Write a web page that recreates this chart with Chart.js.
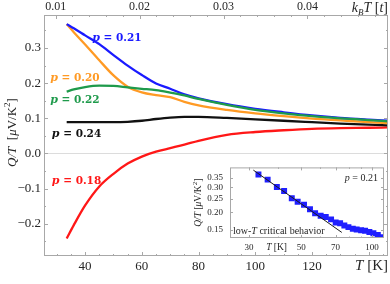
<!DOCTYPE html>
<html lang="en">
<head>
<meta charset="UTF-8" />
<title>Q/T vs T</title>
<script src="https://cdn.jsdelivr.net/npm/chart.js"></script>
<style>
  html, body { margin: 0; padding: 0; background: #fff; }
  #wrap { position: relative; width: 390px; height: 284px; }
  #main { position: absolute; left: 0; top: 0; }
  #inset { position: absolute; left: 185px; top: 155px; }
</style>
</head>
<body>
<div id="wrap">
  <canvas id="main" width="390" height="284"></canvas>
  <canvas id="inset" width="205" height="104"></canvas>
</div>
<script>
// main panel: Q/T vs T for several dopings p
const temps = [33.5, 36, 40, 45, 50, 55, 60, 65, 70, 75, 80, 90, 100, 110, 120, 130, 140, 147];
const p021 = [0.368, 0.356, 0.336, 0.311, 0.280, 0.250, 0.223, 0.199, 0.184, 0.168, 0.157, 0.140, 0.127, 0.117, 0.108, 0.101, 0.096, 0.093];
const p020 = [0.368, 0.345, 0.310, 0.265, 0.222, 0.190, 0.174, 0.166, 0.160, 0.147, 0.137, 0.124, 0.114, 0.106, 0.099, 0.094, 0.089, 0.086];
const p022 = [0.176, 0.182, 0.189, 0.193, 0.192, 0.188, 0.184, 0.180, 0.173, 0.165, 0.155, 0.138, 0.124, 0.114, 0.106, 0.100, 0.095, 0.091];
const p024 = [0.089, 0.089, 0.089, 0.089, 0.089, 0.090, 0.093, 0.098, 0.102, 0.104, 0.104, 0.101, 0.097, 0.093, 0.089, 0.085, 0.082, 0.080];
const p018 = [-0.242, -0.204, -0.148, -0.094, -0.058, -0.029, -0.009, 0.005, 0.015, 0.025, 0.036, 0.053, 0.061, 0.066, 0.070, 0.072, 0.073, 0.074];

const tTicks = [40, 60, 80, 100, 120];
const kbtTicks = [0.01, 0.02, 0.03, 0.04];
const yTicks = [-0.2, -0.1, 0.0, 0.1, 0.2, 0.3];
const kelvinPerT = 2960;   // T [K] per k_B T [t]

// inset: p = 0.21 data on log-log axes
const insetT = [32.9, 36.0, 39.4, 42.3, 45.6, 48.3, 51.4, 54.5, 57.3, 60.5, 63.6, 67.0, 70.1, 73.2, 76.3, 79.4, 82.9, 86.1, 89.9, 93.5, 97.5, 101.4, 105.9, 110.1];
const insetQ = [0.370, 0.340, 0.302, 0.283, 0.251, 0.237, 0.226, 0.210, 0.197, 0.189, 0.185, 0.178, 0.169, 0.167, 0.161, 0.157, 0.153, 0.151, 0.149, 0.148, 0.145, 0.142, 0.138, 0.133];
const fitT = [31.3, 74.4];
const fitQ = [0.397, 0.144];
const insetXTicks = [30, 50, 70, 100];
const insetYTicks = [0.15, 0.20, 0.25, 0.30, 0.35];

const serif = "'Liberation Serif', 'Times New Roman', serif";
const boldSerif = "'DejaVu Serif', serif";
const frameColor = '#a8a8a8';
const textColor = '#262626';

const series = [
  { name: '0.22', data: p022, color: '#1e9a4b', order: 0, at: [27.66, 0.1556] },
  { name: '0.21', data: p021, color: '#1a1aff', order: 1, at: [42.47, 0.330] },
  { name: '0.20', data: p020, color: '#ff9a24', order: 2, at: [27.66, 0.2187] },
  { name: '0.24', data: p024, color: '#111111', order: 3, at: [28.26, 0.0574] },
  { name: '0.18', data: p018, color: '#ff1717', order: 4, at: [28.26, -0.0755] }
];

function drawRich(ctx, parts, x, y, align) {
  let w = 0;
  for (const p of parts) { ctx.font = p.f; w += ctx.measureText(p.t).width; }
  let cx = align === 'center' ? x - w / 2 : align === 'right' ? x - w : x;
  ctx.textBaseline = 'alphabetic';
  ctx.textAlign = 'left';
  for (const p of parts) {
    ctx.font = p.f;
    ctx.fillText(p.t, cx, y + (p.dy || 0));
    cx += ctx.measureText(p.t).width;
  }
}

function frameTicks(ctx, a, scale, vals, len, sides) {
  ctx.beginPath();
  for (const v of vals) {
    const p = scale.getPixelForValue(v);
    if (scale.isHorizontal()) {
      if (p < a.left || p > a.right) continue;
      const x = Math.round(p) + 0.5;
      if (sides.includes('bottom')) { ctx.moveTo(x, a.bottom); ctx.lineTo(x, a.bottom - len); }
      if (sides.includes('top')) { ctx.moveTo(x, a.top); ctx.lineTo(x, a.top + len); }
    } else {
      if (p < a.top || p > a.bottom) continue;
      const y = Math.round(p) + 0.5;
      if (sides.includes('left')) { ctx.moveTo(a.left, y); ctx.lineTo(a.left + len, y); }
      if (sides.includes('right')) { ctx.moveTo(a.right, y); ctx.lineTo(a.right - len, y); }
    }
  }
  ctx.stroke();
}

function range(from, to, step) {
  const out = [];
  for (let v = from; v <= to + step / 2; v += step) out.push(+v.toFixed(6));
  return out;
}

const mainDecor = {
  id: 'mainDecor',
  afterDraw(chart) {
    const { ctx, chartArea: a, scales } = chart;
    ctx.save();
    ctx.strokeStyle = frameColor;
    ctx.lineWidth = 1;
    ctx.strokeRect(a.left + 0.5, a.top + 0.5, a.right - a.left - 1, a.bottom - a.top - 1);
    frameTicks(ctx, a, scales.y, yTicks, 4, ['left', 'right']);
    frameTicks(ctx, a, scales.y, range(-0.25, 0.35, 0.1), 2, ['left', 'right']);
    frameTicks(ctx, a, scales.x, range(40, 140, 20), 4, ['bottom']);
    frameTicks(ctx, a, scales.x, range(30, 145, 5), 2, ['bottom']);
    frameTicks(ctx, a, scales.x2, kbtTicks, 4, ['top']);
    frameTicks(ctx, a, scales.x2, range(0.01, 0.048, 0.002), 2, ['top']);

    // curve labels
    for (const s of series) {
      const x = scales.x.getPixelForValue(s.at[0]);
      const y = scales.y.getPixelForValue(s.at[1]) + 4;
      ctx.fillStyle = s.color;
      drawRich(ctx, [
        { t: 'p', f: 'italic bold 11px ' + boldSerif },
        { t: ' = ' + s.name, f: 'bold 10.5px ' + boldSerif }
      ], x, y, 'left');
    }

    ctx.fillStyle = textColor;
    // y title
    ctx.save();
    ctx.translate(16, (a.top + a.bottom) / 2 - 3);
    ctx.rotate(-Math.PI / 2);
    drawRich(ctx, [
      { t: 'Q/T', f: 'italic 13px ' + serif },
      { t: '  [', f: '13px ' + serif },
      { t: 'μ', f: 'italic 13px ' + serif },
      { t: 'V/K', f: '13px ' + serif },
      { t: '2', f: '9px ' + serif, dy: -6 },
      { t: ']', f: '13px ' + serif }
    ], 0, 0, 'center');
    ctx.restore();

    // top axis label
    drawRich(ctx, [
      { t: 'k', f: 'italic 14px ' + serif },
      { t: 'B', f: 'italic 9px ' + serif, dy: 3 },
      { t: 'T', f: 'italic 14px ' + serif },
      { t: ' [', f: '14px ' + serif },
      { t: 't', f: 'italic 14px ' + serif },
      { t: ']', f: '14px ' + serif }
    ], a.right, 12, 'right');

    // bottom axis label
    drawRich(ctx, [
      { t: 'T', f: 'italic 15px ' + serif },
      { t: ' [K]', f: '15px ' + serif }
    ], a.right, 270, 'right');
    ctx.restore();
  }
};

new Chart(document.getElementById('main'), {
  type: 'line',
  data: {
    datasets: series.map(s => ({
      label: 'p = ' + s.name,
      data: temps.map((t, i) => ({ x: t, y: s.data[i] })),
      borderColor: s.color,
      borderWidth: 2.3,
      pointRadius: 0,
      cubicInterpolationMode: 'monotone',
      order: s.order
    }))
  },
  options: {
    responsive: false,
    animation: false,
    events: [],
    layout: { padding: { right: 2 } },
    plugins: { legend: { display: false }, tooltip: { enabled: false } },
    scales: {
      x: {
        type: 'linear', position: 'bottom', min: 25.5, max: 146.8,
        afterBuildTicks: s => { s.ticks = tTicks.map(v => ({ value: v })); },
        afterFit: s => { s.height = 28; },
        grid: { display: false, drawTicks: false },
        border: { display: false },
        ticks: { padding: 3, color: textColor, autoSkip: false, maxRotation: 0, font: { family: serif, size: 13 } }
      },
      x2: {
        type: 'linear', position: 'top', min: 25.5 / kelvinPerT, max: 146.8 / kelvinPerT,
        afterBuildTicks: s => { s.ticks = kbtTicks.map(v => ({ value: v })); },
        afterFit: s => { s.height = 15; },
        grid: { display: false, drawTicks: false },
        border: { display: false },
        ticks: { padding: 1, color: textColor, autoSkip: false, maxRotation: 0, font: { family: serif, size: 12 },
          callback: v => v.toFixed(2) }
      },
      y: {
        type: 'linear', min: -0.292, max: 0.394,
        afterBuildTicks: s => { s.ticks = yTicks.map(v => ({ value: v })); },
        afterFit: s => { s.width = 44; },
        grid: { drawTicks: false, color: c => (c.tick && c.tick.value === 0 ? '#dcdcdc' : 'rgba(0,0,0,0)') },
        border: { display: false },
        ticks: { padding: 3, color: textColor, font: { family: serif, size: 13 },
          callback: v => (v < 0 ? '\u2212' : '') + Math.abs(v).toFixed(1) }
      }
    }
  },
  plugins: [mainDecor]
});

const insetDecor = {
  id: 'insetDecor',
  beforeDraw(chart) {
    const { ctx, chartArea: a } = chart;
    ctx.save();
    ctx.fillStyle = '#fff';
    ctx.fillRect(a.left, a.top, a.right - a.left, a.bottom - a.top);
    ctx.restore();
  },
  afterDraw(chart) {
    const { ctx, chartArea: a, scales } = chart;
    ctx.save();
    ctx.strokeStyle = frameColor;
    ctx.lineWidth = 1;
    ctx.strokeRect(a.left + 0.5, a.top + 0.5, a.right - a.left - 1, a.bottom - a.top - 1);
    frameTicks(ctx, a, scales.x, insetXTicks, 3, ['bottom', 'top']);
    frameTicks(ctx, a, scales.x, [40, 60, 80, 90], 1.5, ['bottom', 'top']);
    frameTicks(ctx, a, scales.y, insetYTicks, 3, ['left', 'right']);

    ctx.fillStyle = textColor;
    drawRich(ctx, [
      { t: 'p', f: 'italic 10px ' + serif },
      { t: ' = 0.21', f: '10px ' + serif }
    ], a.right - 6, a.top + 14, 'right');
    drawRich(ctx, [
      { t: 'low-', f: '10px ' + serif },
      { t: 'T', f: 'italic 10px ' + serif },
      { t: ' critical behavior', f: '10px ' + serif }
    ], a.left + 3, a.bottom - 4, 'left');
    drawRich(ctx, [
      { t: 'T', f: 'italic 9.5px ' + serif },
      { t: ' [K]', f: '9.5px ' + serif }
    ], scales.x.getPixelForValue(39.3), a.bottom + 12, 'center');

    ctx.save();
    ctx.translate(16, (a.top + a.bottom) / 2);
    ctx.rotate(-Math.PI / 2);
    drawRich(ctx, [
      { t: 'Q/T', f: 'italic 9.5px ' + serif },
      { t: ' [', f: '9.5px ' + serif },
      { t: 'μ', f: 'italic 9.5px ' + serif },
      { t: 'V/K', f: '9.5px ' + serif },
      { t: '2', f: '7px ' + serif, dy: -4 },
      { t: ']', f: '9.5px ' + serif }
    ], 0, 0, 'center');
    ctx.restore();
    ctx.restore();
  }
};

new Chart(document.getElementById('inset'), {
  type: 'scatter',
  data: {
    datasets: [
      {
        data: fitT.map((t, i) => ({ x: t, y: fitQ[i] })),
        showLine: true, borderColor: '#1a1a1a', borderWidth: 1, pointRadius: 0, order: 0
      },
      {
        data: insetT.map((t, i) => ({ x: t, y: insetQ[i] })),
        pointStyle: 'rect', pointRadius: 4.2, backgroundColor: '#1f1fff', borderWidth: 0, order: 1
      }
    ]
  },
  options: {
    responsive: false,
    animation: false,
    events: [],
    layout: { padding: { top: 7, right: 6 } },
    plugins: { legend: { display: false }, tooltip: { enabled: false } },
    scales: {
      x: {
        type: 'logarithmic', min: 24.9, max: 112.5,
        afterBuildTicks: s => { s.ticks = insetXTicks.map(v => ({ value: v })); },
        afterFit: s => { s.height = 21; },
        grid: { display: false, drawTicks: false },
        border: { display: false },
        ticks: { padding: 4, color: textColor, autoSkip: false, maxRotation: 0, font: { family: serif, size: 9 },
          callback: v => String(v) }
      },
      y: {
        type: 'logarithmic', min: 0.1315, max: 0.415,
        afterBuildTicks: s => { s.ticks = insetYTicks.map(v => ({ value: v })); },
        afterFit: s => { s.width = 45; },
        grid: { display: false, drawTicks: false },
        border: { display: false },
        ticks: { padding: 7, color: textColor, autoSkip: false, font: { family: serif, size: 9 },
          callback: v => v.toFixed(2) }
      }
    }
  },
  plugins: [insetDecor]
});
</script>
</body>
</html>
